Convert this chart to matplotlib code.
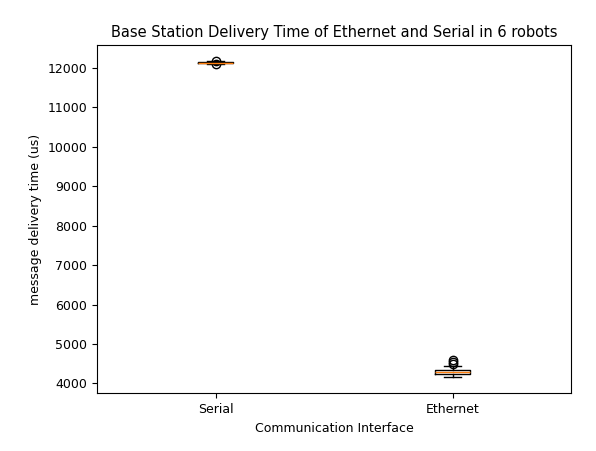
import matplotlib
matplotlib.use("Agg")
import matplotlib.pyplot as plt

labels = ["Serial", "Ethernet"]
q1 = [12120, 4250]
med = [12135, 4300]
q3 = [12150, 4350]
whislo = [12105, 4150]
whishi = [12165, 4450]
fliers = [[12095, 12175], [4500, 4550, 4600]]

stats = []
for i, lab in enumerate(labels):
    stats.append({"label": lab, "q1": q1[i], "med": med[i], "q3": q3[i],
                  "whislo": whislo[i], "whishi": whishi[i], "fliers": fliers[i]})

fig = plt.figure(figsize=(5.96, 4.51), dpi=100)
ax = fig.add_axes([0.163, 0.128, 0.795, 0.772])
ax.bxp(stats)
ax.set_ylim(3750, 12580)
ax.set_title("Base Station Delivery Time of Ethernet and Serial in 6 robots", fontsize=10.5)
ax.set_xlabel("Communication Interface", fontsize=9)
ax.set_ylabel("message delivery time (us)", fontsize=9)
ax.tick_params(labelsize=9)
fig.savefig("out.png", dpi=100)
